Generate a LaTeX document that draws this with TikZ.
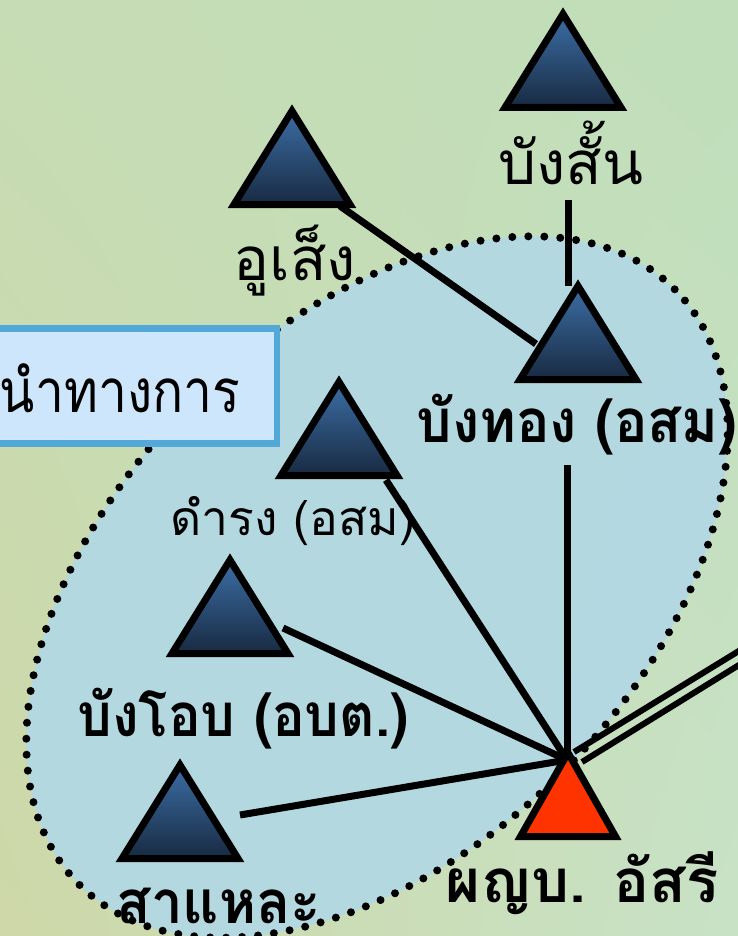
\documentclass[tikz,border=0pt]{standalone}
\usepackage{fontspec}
\newfontfamily\thai[Script=Thai]{Loma}
\usetikzlibrary{calc,shadings}
\definecolor{bgUL}{RGB}{198,220,180}
\definecolor{bgUR}{RGB}{192,222,186}
\definecolor{bgLL}{RGB}{206,216,168}
\definecolor{bgLR}{RGB}{200,226,198}
\definecolor{ellfill}{RGB}{178,216,228}
\definecolor{triTop}{RGB}{60,110,165}
\definecolor{triBot}{RGB}{24,42,66}
\definecolor{redtri}{RGB}{255,51,0}
\definecolor{boxfill}{RGB}{205,230,251}
\definecolor{boxline}{RGB}{82,168,214}
\newcommand\bltri[2]{\path[bluetri] (#1,#2+7) -- (#1-58,#2+100.5) -- (#1+58,#2+100.5) -- cycle;}
\begin{document}
\begin{tikzpicture}[x=1pt,y=-1pt,
  bluetri/.style={top color=triTop,bottom color=triBot,draw=black,line width=7pt,line join=miter},
  redtristyle/.style={fill=redtri,draw=black,line width=7pt,line join=miter},
  link/.style={draw=black,line width=7pt},
  dotsline/.style={draw=black,line width=8pt,line cap=round,dash pattern=on 0pt off 16pt},
  lab/.style={font=\thai\fontsize{60}{60}\selectfont,inner sep=0pt,anchor=base},
  labb/.style={font=\thai\bfseries\fontsize{60}{60}\selectfont,inner sep=0pt,anchor=base},
  labs/.style={font=\thai\fontsize{48}{48}\selectfont,inner sep=0pt,anchor=base},
  leadbox/.style={font=\thai\fontsize{60}{60}\selectfont,fill=boxfill,draw=boxline,line width=6.5pt,
    inner xsep=43pt,inner ysep=0pt,text height=83.5pt,text depth=31.5pt,anchor=base east}]
\clip (0,0) rectangle (738,936);
\shade[upper left=bgUL,upper right=bgUR,lower left=bgLL,lower right=bgLR] (0,0) rectangle (738,936);
% ellipse
\fill[ellfill,opacity=0.92,rotate around={45:(377,587)}] (377,587) ellipse [x radius=421pt,y radius=262pt];
\path[dotsline,rotate around={45:(377,587)}] (377,587) ellipse [x radius=421pt,y radius=262pt];
% coordinates for connectors
\coordinate (uA) at (568,200);
\coordinate (uB) at (568,286);
\coordinate (oA) at (340,206);
\coordinate (oB) at (536,344);
\coordinate (tA) at (567,465);
\coordinate (hub) at (567,760);
\coordinate (dA) at (386,480);
\coordinate (bA) at (283,628);
\coordinate (sA) at (240,815);
\coordinate (d1a) at (574,752);
\coordinate (d1b) at (760,638);
\coordinate (d2a) at (582,762);
\coordinate (d2b) at (760,652);
% connectors
\draw[link] (uA) -- (uB);
\draw[link] (oA) -- (oB);
\draw[link] (tA) -- (hub);
\draw[link] (dA) -- (hub);
\draw[link] (bA) -- (hub);
\draw[link] (sA) -- (hub);
\draw[link,line width=6pt] (d1a) -- (d1b);
\draw[link,line width=6pt] (d2a) -- (d2b);
% triangles
\bltri{563}{7}
\bltri{292}{104}
\bltri{578}{279}
\bltri{339}{375}
\bltri{230}{553}
\bltri{180}{758}
\path[redtristyle] (568,752.7) -- (520.5,836.5) -- (615.5,836.5) -- cycle;
% labels
\node[lab] (nA) at (571,185) {บังสั้น};
\node[lab] (nB) at (295,280) {อูเส็ง};
\node[labb,xscale=0.93] (nC) at (577,442) {บังทอง (อสม)};
\node[labs] (nD) at (293,535) {ดำรง (อสม)};
\node[labb,xscale=0.91] (nE) at (243,736) {บังโอบ (อบต.)};
\node[labb,xscale=0.94] (nF) at (219,923) {สาแหละ};
\node[labb] (nG) at (582,902) {ผญบ. อัสรี};
\node[leadbox,xscale=0.86] (lead) at (280,412) {ผู้นำทางการ};
\end{tikzpicture}
\end{document}
